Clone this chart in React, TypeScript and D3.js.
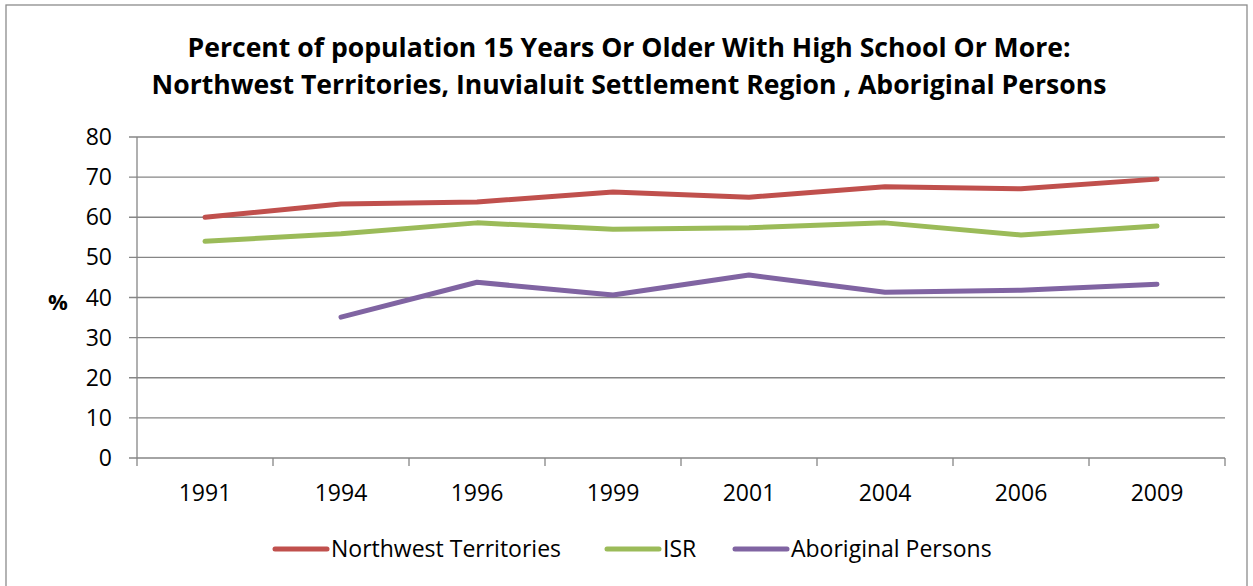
import React from "react";
import * as d3 from "d3";

const years = ["1991", "1994", "1996", "1999", "2001", "2004", "2006", "2009"];
const nwt = [60.0, 63.3, 63.8, 66.3, 65.0, 67.6, 67.1, 69.5];
const isr = [54.0, 55.9, 58.6, 57.0, 57.4, 58.6, 55.6, 57.8];
const aboriginal: (number | null)[] = [null, 35.1, 43.8, 40.6, 45.6, 41.3, 41.8, 43.3];
const yTicks = [0, 10, 20, 30, 40, 50, 60, 70, 80];
const titleLines = [
  "Percent of population 15 Years Or Older With High School Or More:",
  "Northwest Territories, Inuvialuit Settlement Region , Aboriginal Persons",
];
const seriesNames = ["Northwest Territories", "ISR", "Aboriginal Persons"];
const seriesColors = ["#C0504D", "#9BBB59", "#8064A2"];

const W = 1253;
const H = 586;
const plot = { left: 137, right: 1225, top: 137, bottom: 458 };
const FONT = "'Open Sans', Lato, sans-serif";

export default function App() {
  const x = d3.scaleBand<string>().domain(years).range([plot.left, plot.right]);
  const y = d3.scaleLinear().domain([0, 80]).range([plot.bottom, plot.top]);
  const cx = (yr: string) => (x(yr) as number) + x.bandwidth() / 2;

  const line = d3
    .line<number | null>()
    .defined((d) => d != null)
    .x((_, i) => cx(years[i]))
    .y((d) => y(d as number));

  const series = [nwt, isr, aboriginal];
  const legendX = [273, 605, 733];
  const gridColor = "#868686";

  return (
    <svg
      width={W}
      height={H}
      style={{ position: "absolute", left: 0, top: 0, background: "#fff" }}
    >
      <rect x={6} y={5} width={1241} height={600} fill="#fff" stroke="#8c8c8c" strokeWidth={1.3} />
      {titleLines.map((t, i) => (
        <text
          key={i}
          x={629}
          y={57 + i * 37}
          textAnchor="middle"
          fontFamily={FONT}
          fontWeight="bold"
          fontSize={26.6}
          fill="#000"
        >
          {t}
        </text>
      ))}
      {yTicks.map((t) => (
        <g key={t}>
          <line x1={129} x2={plot.right} y1={y(t)} y2={y(t)} stroke={gridColor} strokeWidth={1.3} />
          <text x={112} y={y(t) + 8} textAnchor="end" fontFamily={FONT} fontSize={23} fill="#000">
            {t}
          </text>
        </g>
      ))}
      <line x1={plot.left} x2={plot.left} y1={plot.top} y2={plot.bottom} stroke={gridColor} strokeWidth={1.3} />
      {years.concat(["end"]).map((yr, i) => {
        const xx = plot.left + i * x.bandwidth();
        return <line key={i} x1={xx} x2={xx} y1={plot.bottom} y2={plot.bottom + 8} stroke={gridColor} strokeWidth={1.3} />;
      })}
      {years.map((yr) => (
        <text key={yr} x={cx(yr)} y={501} textAnchor="middle" fontFamily={FONT} fontSize={23} fill="#000">
          {yr}
        </text>
      ))}
      <text x={58} y={310} textAnchor="middle" fontFamily={FONT} fontWeight="bold" fontSize={22} fill="#000">
        %
      </text>
      {series.map((s, i) => (
        <path
          key={i}
          d={line(s) || ""}
          fill="none"
          stroke={seriesColors[i]}
          strokeWidth={5}
          strokeLinecap="round"
          strokeLinejoin="round"
        />
      ))}
      {seriesNames.map((n, i) => (
        <g key={n}>
          <line
            x1={legendX[i] + 2}
            x2={legendX[i] + 54}
            y1={549}
            y2={549}
            stroke={seriesColors[i]}
            strokeWidth={5}
            strokeLinecap="round"
          />
          <text x={legendX[i] + 58} y={557} fontFamily={FONT} fontSize={23} fill="#000">
            {n}
          </text>
        </g>
      ))}
    </svg>
  );
}
